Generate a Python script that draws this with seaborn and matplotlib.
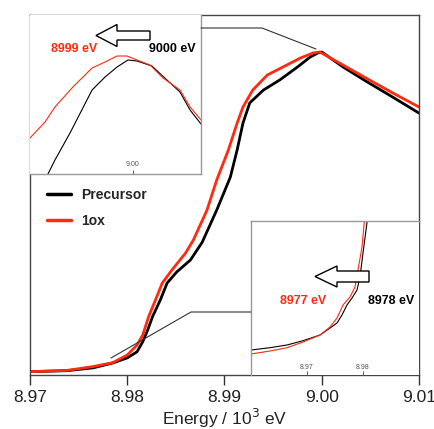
import numpy as np
import pandas as pd
import matplotlib
matplotlib.use("Agg")
import matplotlib.pyplot as plt
from matplotlib.patches import FancyArrow
from matplotlib.lines import Line2D
from matplotlib.transforms import IdentityTransform
import seaborn as sns

# ---------------- data (energy in 10^3 eV, normalized absorbance) ----------------
energy_precursor = [8.9700, 8.9738, 8.9765, 8.9785, 8.9800, 8.9810, 8.9816, 8.9821,
                    8.9826, 8.9834, 8.9841, 8.9851, 8.9865, 8.9877, 8.9892, 8.9906,
                    8.9913, 8.9919, 8.9926, 8.9940, 8.9957, 8.9975, 8.9988, 8.9996,
                    9.0000, 9.0022, 9.0047, 9.0073, 9.0100]
mu_precursor = [0.001, 0.004, 0.013, 0.028, 0.044, 0.063, 0.095, 0.131,
                0.173, 0.225, 0.278, 0.313, 0.350, 0.405, 0.506, 0.609,
                0.694, 0.778, 0.841, 0.881, 0.913, 0.953, 0.984, 0.997,
                1.000, 0.953, 0.906, 0.859, 0.809]

energy_1ox = [8.9700, 8.9738, 8.9765, 8.9785, 8.9800, 8.9810, 8.9816, 8.9822,
              8.9829, 8.9836, 8.9846, 8.9860, 8.9868, 8.9882, 8.9892, 8.9904,
              8.9913, 8.9919, 8.9929, 8.9944, 8.9960, 8.9978, 8.9991, 8.9998,
              9.0022, 9.0047, 9.0073, 9.0100]
mu_1ox = [0.001, 0.005, 0.017, 0.029, 0.053, 0.084, 0.116, 0.173,
          0.225, 0.278, 0.319, 0.372, 0.4125, 0.506, 0.600, 0.694,
          0.778, 0.828, 0.881, 0.928, 0.953, 0.981, 0.997, 1.000,
          0.959, 0.916, 0.872, 0.828]

# inset 1 (edge maximum)
ins1_energy_precursor = [8.99505, 8.99546, 8.99634, 8.99763, 8.99839, 8.99909, 8.99973,
                         9.00026, 9.00113, 9.00201, 9.00277, 9.00336, 9.00400]
ins1_mu_precursor = [0.823, 0.844, 0.8845, 0.949, 0.9685, 0.9835, 0.994,
                     0.9925, 0.985, 0.964, 0.946, 0.919, 0.898]
ins1_energy_1ox = [8.99400, 8.99488, 8.99546, 8.99651, 8.99763, 8.99839, 8.99909,
                   8.99967, 9.00026, 9.00102, 9.00178, 9.00277, 9.00336, 9.00400]
ins1_mu_1ox = [0.877, 0.901, 0.9235, 0.9535, 0.982, 0.991, 1.000,
               1.000, 0.994, 0.9865, 0.967, 0.949, 0.9235, 0.904]

# inset 2 (pre-edge)
ins2_energy_precursor = [8.9600, 8.96339, 8.96643, 8.96929, 8.97232, 8.97411, 8.97536,
                         8.97625, 8.97714, 8.97804, 8.97893, 8.97946, 8.98000, 8.98054,
                         8.98089]
ins2_mu_precursor = [0.025, 0.0273, 0.030, 0.0343, 0.040, 0.047, 0.052,
                     0.060, 0.070, 0.077, 0.085, 0.098, 0.122, 0.145,
                     0.160]
ins2_energy_1ox = [8.9600, 8.96339, 8.96643, 8.96929, 8.97232, 8.97411, 8.97536,
                   8.97643, 8.97768, 8.97857, 8.97911, 8.97982, 8.98018, 8.98036]
ins2_mu_1ox = [0.021, 0.024, 0.0273, 0.033, 0.040, 0.048, 0.057,
               0.070, 0.078, 0.088, 0.105, 0.128, 0.150, 0.160]

series_names = ["Precursor", "1ox"]
series_colors = {"Precursor": "#000000", "1ox": "#ff2a10"}
main_ticks = [8.97, 8.98, 8.99, 9.00, 9.01]
ins1_ticks = [9.00]
ins2_ticks = [8.97, 8.98]


def frame(e1, m1, e2, m2):
    return pd.concat([
        pd.DataFrame({"E": e1, "mu": m1, "sample": series_names[0]}),
        pd.DataFrame({"E": e2, "mu": m2, "sample": series_names[1]}),
    ], ignore_index=True)


df_main = frame(energy_precursor, mu_precursor, energy_1ox, mu_1ox)
df_ins1 = frame(ins1_energy_precursor, ins1_mu_precursor, ins1_energy_1ox, ins1_mu_1ox)
df_ins2 = frame(ins2_energy_precursor, ins2_mu_precursor, ins2_energy_1ox, ins2_mu_1ox)

# ---------------- figure ----------------
sns.set_theme(style="ticks")
plt.rcParams["font.family"] = ["Liberation Sans", "DejaVu Sans"]

W, H = 435, 429
fig = plt.figure(figsize=(W / 100, H / 100), dpi=100)


def fig_rect(x0, y0, x1, y1):
    return [x0 / W, 1 - y1 / H, (x1 - x0) / W, (y1 - y0) / H]


ax = fig.add_axes(fig_rect(30, 15, 419, 375))
sns.lineplot(data=df_main, x="E", y="mu", hue="sample", palette=series_colors,
             sort=False, estimator=None, linewidth=2.0, ax=ax)
ax.set_xlim(8.97, 9.01)
ax.set_ylim(-0.0094, 1.1156)
ax.set_xticks(main_ticks)
ax.set_xticklabels([f"{t:.2f}" for t in main_ticks])
ax.set_yticks([])
ax.set_ylabel("")
ax.set_xlabel("Energy / 10$^{3}$ eV", fontsize=12.5, labelpad=1, color="#222222")
ax.tick_params(axis="x", direction="out", length=7, width=1, pad=4,
               labelsize=12.5, colors="#333333", labelcolor="#222222")
for s in ax.spines.values():
    s.set_color("#444444")
    s.set_linewidth(1.0)
    s.set_visible(True)

leg = ax.legend(loc="upper left", bbox_to_anchor=(47 / W, 1 - 188 / H),
                bbox_transform=fig.transFigure, frameon=False, borderpad=0,
                borderaxespad=0, handlelength=1.7, handletextpad=0.75,
                labelspacing=0.85, prop={"weight": "bold", "size": 10})
for line in leg.get_lines():
    line.set_linewidth(2.5)

# inset 1
ax1 = fig.add_axes(fig_rect(30, 15, 201, 174))
sns.lineplot(data=df_ins1, x="E", y="mu", hue="sample", palette=series_colors,
             sort=False, estimator=None, linewidth=0.8, ax=ax1, legend=False)
ax1.set_xlim(8.9940, 9.0040)
ax1.set_ylim(0.823, 1.0615)
ax1.set_xticks(ins1_ticks)
ax1.set_xticklabels([f"{t:.2f}" for t in ins1_ticks])
ax1.set_yticks([])
ax1.set_xlabel("")
ax1.set_ylabel("")
ax1.tick_params(axis="x", direction="in", length=3, width=0.8, pad=-9,
                labelsize=5, colors="#666666", labelcolor="#555555")
for k, s in ax1.spines.items():
    s.set_color("#999999")
    s.set_linewidth(1.0)
ax1.spines["top"].set_visible(False)
ax1.spines["left"].set_visible(False)

# inset 2
ax2 = fig.add_axes(fig_rect(251, 221, 419, 375))
sns.lineplot(data=df_ins2, x="E", y="mu", hue="sample", palette=series_colors,
             sort=False, estimator=None, linewidth=0.8, ax=ax2, legend=False)
ax2.set_xlim(8.96, 8.99)
ax2.set_ylim(0.0, 0.154)
ax2.set_xticks(ins2_ticks)
ax2.set_xticklabels([f"{t:.2f}" for t in ins2_ticks])
ax2.set_yticks([])
ax2.set_xlabel("")
ax2.set_ylabel("")
ax2.tick_params(axis="x", direction="in", length=3, width=0.8, pad=-8,
                labelsize=5, colors="#666666", labelcolor="#555555")
for k, s in ax2.spines.items():
    s.set_color("#999999")
    s.set_linewidth(1.0)
ax2.spines["right"].set_visible(False)
ax2.spines["bottom"].set_visible(False)

# annotation text
fig.text(74 / W, 1 - 49 / H, "8999 eV", color="#ff2a10", fontsize=9, weight="bold",
         ha="center", va="center")
fig.text(172 / W, 1 - 49 / H, "9000 eV", color="black", fontsize=9, weight="bold",
         ha="center", va="center")
fig.text(303 / W, 1 - 301 / H, "8977 eV", color="#ff2a10", fontsize=9, weight="bold",
         ha="center", va="center")
fig.text(391 / W, 1 - 301 / H, "8978 eV", color="black", fontsize=9, weight="bold",
         ha="center", va="center")

# arrows (display pixels)
idt = IdentityTransform()
for (xt, xh, yc, bw, hw, hl) in [(150, 96, 35.5, 9, 22, 21), (369, 315, 276.5, 11, 21, 22)]:
    arr = FancyArrow(xt, H - yc, xh - xt, 0, width=bw, head_width=hw, head_length=hl,
                     length_includes_head=True, fc="white", ec="black", lw=1.0,
                     transform=idt, zorder=5)
    fig.add_artist(arr)

# connector lines
for xs, ys in [([201, 262, 316], [28, 28, 49]), ([251, 191, 111], [312, 312, 358])]:
    ln = Line2D(xs, [H - y for y in ys], color="#333333", lw=0.8, transform=idt, zorder=5)
    fig.add_artist(ln)

fig.savefig("out.png", dpi=100)
